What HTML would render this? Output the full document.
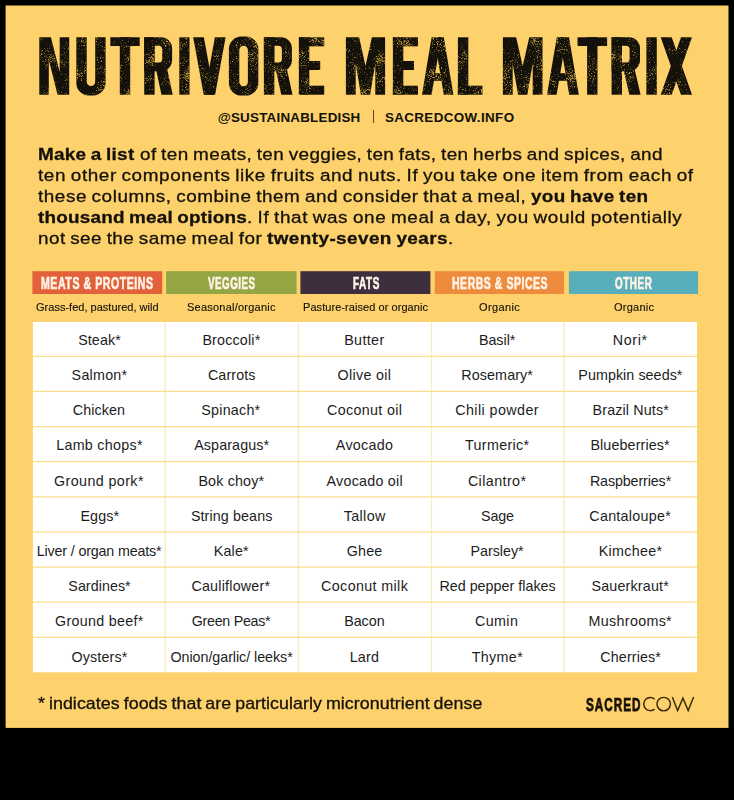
<!DOCTYPE html>
<html><head><meta charset="utf-8"><title>Nutrivore Meal Matrix</title>
<style>
html,body{margin:0;padding:0;background:#000;}
body{width:734px;height:800px;position:relative;overflow:hidden;font-family:"Liberation Sans",sans-serif;color:#14110a;}
.abs{position:absolute;}
#card{left:5.6px;top:5.5px;width:722.9px;height:722.4px;background:#FDD16C;}
.ln{position:absolute;white-space:nowrap;line-height:1;}
.sc{position:absolute;white-space:nowrap;line-height:1;transform-origin:0 50%;}
.hd{position:absolute;top:271.2px;height:22.8px;}
#tbl{left:33px;top:322px;width:664px;height:350px;}
.hl{position:absolute;left:0;width:100%;height:1.1px;background:#FBE7A2;}
.vl{position:absolute;top:0;height:100%;width:1.3px;background:#FBE59C;}
.c{position:absolute;font-size:14.3px;line-height:35px;height:35px;white-space:nowrap;color:#1d1d1d;}
</style></head><body>

<svg class="abs" style="left:0;top:0" width="734" height="800" viewBox="0 0 734 800"><rect x="5.6" y="5.5" width="722.9" height="722.4" fill="#FDD16C"/><rect x="32.4" y="271.2" width="129.8" height="22.8" fill="#E3613A"/><rect x="166.1" y="271.2" width="130.5" height="22.8" fill="#94A644"/><rect x="300.4" y="271.2" width="130.0" height="22.8" fill="#3E2F3E"/><rect x="434.8" y="271.2" width="129.2" height="22.8" fill="#EE8A3C"/><rect x="568.9" y="271.2" width="129.2" height="22.8" fill="#58AEBB"/><rect x="32.9" y="321.9" width="664.1" height="350.4" fill="#fff"/></svg>
<svg class="abs" style="left:0;top:0" width="734" height="110" viewBox="0 0 734 110"><defs><filter id="grit" x="0" y="0" width="734" height="110" filterUnits="userSpaceOnUse" color-interpolation-filters="sRGB"><feTurbulence type="fractalNoise" baseFrequency="0.75" numOctaves="2" seed="7" result="fine"/><feTurbulence type="fractalNoise" baseFrequency="0.06" numOctaves="2" seed="11" result="coarse"/><feComposite in="fine" in2="coarse" operator="arithmetic" k1="0" k2="0.62" k3="0.38" k4="0" result="mix"/><feColorMatrix in="mix" type="matrix" values="0 0 0 0 0.72  0 0 0 0 0.58  0 0 0 0 0.22  7 0 0 0 -3.9" result="sp"/><feGaussianBlur in="sp" stdDeviation="0.3" result="spb"/><feComposite in="spb" in2="SourceGraphic" operator="in" result="spk"/><feMerge><feMergeNode in="SourceGraphic"/><feMergeNode in="spk"/></feMerge></filter></defs><g fill="#14110a" fill-rule="evenodd" filter="url(#grit)"><path d="M39.30 37.30L50.90 37.30L59.70 72.00L59.70 37.30L69.20 37.30L69.20 94.70L57.60 94.70L48.80 60.00L48.80 94.70L39.30 94.70z"/><path d="M76.30 37.30h10.40V81.75a4.25 4.25 0 0 0 8.50 0V37.30h10.40V83.00a12.50 12.50 0 0 1 -12.50 12.50H88.80a12.50 12.50 0 0 1 -12.50 -12.50z"/><path d="M110.30 37.30h29.40v8.70h-29.40z"/><path d="M119.80 37.30h10.40v57.40h-10.40z"/><path d="M144.20 37.30h10.40v57.40h-10.40z"/><path d="M144.20 37.30H161.10A11.00 11.00 0 0 1 172.10 48.30V60.20A11.00 11.00 0 0 1 161.10 71.20H144.20zM154.60 45.80V62.60H158.60A3.60 3.60 0 0 0 162.20 59.00V49.40A3.60 3.60 0 0 0 158.60 45.80z"/><path d="M155.60 67.20L166.80 67.20L172.70 94.70L161.50 94.70z"/><path d="M179.30 37.30h10.20v57.40h-10.20z"/><path d="M193.20 37.30L203.90 37.30L214.40 94.70L203.70 94.70z"/><path d="M225.60 37.30L214.90 37.30L204.40 94.70L215.10 94.70z"/><path d="M241.40 36.50H245.80A12.50 12.50 0 0 1 258.30 49.00V83.10A12.50 12.50 0 0 1 245.80 95.60H241.40A12.50 12.50 0 0 1 228.90 83.10V49.00A12.50 12.50 0 0 1 241.40 36.50zM243.60 45.70H243.60A4.30 4.30 0 0 1 247.90 50.00V81.90A4.30 4.30 0 0 1 243.60 86.20H243.60A4.30 4.30 0 0 1 239.30 81.90V50.00A4.30 4.30 0 0 1 243.60 45.70z"/><path d="M263.90 37.30h10.40v57.40h-10.40z"/><path d="M263.90 37.30H280.90A11.00 11.00 0 0 1 291.90 48.30V60.20A11.00 11.00 0 0 1 280.90 71.20H263.90zM274.30 45.80V62.60H278.30A3.60 3.60 0 0 0 281.90 59.00V49.40A3.60 3.60 0 0 0 278.30 45.80z"/><path d="M275.30 67.20L286.50 67.20L292.50 94.70L281.30 94.70z"/><path d="M298.90 37.30h10.40v57.40h-10.40z"/><path d="M298.90 37.30h25.30v9.00h-25.30z"/><path d="M298.90 85.70h25.30v9.00h-25.30z"/><path d="M298.90 61.00h21.30v9.00h-21.30z"/><path d="M345.90 37.30L359.10 37.30L365.50 66.00L371.90 37.30L385.10 37.30L385.10 94.70L375.30 94.70L375.30 63.40L370.10 94.70L360.90 94.70L355.70 63.40L355.70 94.70L345.90 94.70z"/><path d="M392.90 37.30h10.40v57.40h-10.40z"/><path d="M392.90 37.30h25.10v9.00h-25.10z"/><path d="M392.90 85.70h25.10v9.00h-25.10z"/><path d="M392.90 61.00h21.10v9.00h-21.10z"/><path d="M422.00 94.70L431.60 94.70L441.20 37.30L431.60 37.30z"/><path d="M453.40 94.70L443.80 94.70L434.20 37.30L443.80 37.30z"/><path d="M428.00 73.20h19.40v7.60h-19.40z"/><path d="M457.90 37.30h10.40v57.40h-10.40z"/><path d="M457.90 85.70h24.50v9.00h-24.50z"/><path d="M502.90 37.30L516.10 37.30L522.70 66.00L529.30 37.30L542.50 37.30L542.50 94.70L532.70 94.70L532.70 63.40L527.30 94.70L518.10 94.70L512.70 63.40L512.70 94.70L502.90 94.70z"/><path d="M547.00 94.70L556.60 94.70L566.40 37.30L556.80 37.30z"/><path d="M578.80 94.70L569.20 94.70L559.40 37.30L569.00 37.30z"/><path d="M553.00 73.20h19.80v7.60h-19.80z"/><path d="M577.50 37.30h29.60v8.70h-29.60z"/><path d="M587.10 37.30h10.40v57.40h-10.40z"/><path d="M611.60 37.30h10.40v57.40h-10.40z"/><path d="M611.60 37.30H629.00A11.00 11.00 0 0 1 640.00 48.30V60.20A11.00 11.00 0 0 1 629.00 71.20H611.60zM622.00 45.80V62.60H626.00A3.60 3.60 0 0 0 629.60 59.00V49.40A3.60 3.60 0 0 0 626.00 45.80z"/><path d="M623.00 67.20L634.20 67.20L640.60 94.70L629.40 94.70z"/><path d="M646.40 37.30h10.40v57.40h-10.40z"/><path d="M660.70 37.30L671.70 37.30L692.00 94.70L681.00 94.70z"/><path d="M692.00 37.30L681.00 37.30L660.70 94.70L671.70 94.70z"/></g></svg>
<div class="abs" style="left:372.6px;top:110px;width:1px;height:13px;background:#5e4a22"></div>
<div class="ln" style="left:217.7px;top:111px;font-size:13.4px;font-weight:700;letter-spacing:0.221px;">@SUSTAINABLEDISH</div>
<div class="ln" style="left:384.9px;top:111px;font-size:13.4px;font-weight:700;letter-spacing:0.381px;">SACREDCOW.INFO</div>
<div class="ln" style="left:37.7px;top:146px;font-size:17.2px;font-weight:700;letter-spacing:0.252px;transform:scaleX(1.1);transform-origin:0 50%;-webkit-text-stroke:.3px #16130c;word-spacing:-1px;">Make a list</div>
<div class="ln" style="left:139.8px;top:146px;font-size:17.2px;font-weight:400;letter-spacing:0.355px;transform:scaleX(1.1);transform-origin:0 50%;-webkit-text-stroke:.3px #16130c;word-spacing:-1px;">of ten meats, ten veggies, ten fats, ten herbs and spices, and</div>
<div class="ln" style="left:37.7px;top:167px;font-size:17.2px;font-weight:400;letter-spacing:0.535px;transform:scaleX(1.1);transform-origin:0 50%;-webkit-text-stroke:.3px #16130c;word-spacing:-1px;">ten other components like fruits and nuts. If you take one item from each of</div>
<div class="ln" style="left:37.7px;top:188px;font-size:17.2px;font-weight:400;letter-spacing:0.487px;transform:scaleX(1.1);transform-origin:0 50%;-webkit-text-stroke:.3px #16130c;word-spacing:-1px;">these columns, combine them and consider that a meal,</div>
<div class="ln" style="left:531.1px;top:188px;font-size:17.2px;font-weight:700;letter-spacing:0.307px;transform:scaleX(1.1);transform-origin:0 50%;-webkit-text-stroke:.3px #16130c;word-spacing:-1px;">you have ten</div>
<div class="ln" style="left:37.7px;top:209px;font-size:17.2px;font-weight:700;letter-spacing:0.185px;transform:scaleX(1.1);transform-origin:0 50%;-webkit-text-stroke:.3px #16130c;word-spacing:-1px;">thousand meal options</div>
<div class="ln" style="left:246.6px;top:209px;font-size:17.2px;font-weight:400;letter-spacing:0.545px;transform:scaleX(1.1);transform-origin:0 50%;-webkit-text-stroke:.3px #16130c;word-spacing:-1px;">. If that was one meal a day, you would potentially</div>
<div class="ln" style="left:37.7px;top:230px;font-size:17.2px;font-weight:400;letter-spacing:0.406px;transform:scaleX(1.1);transform-origin:0 50%;-webkit-text-stroke:.3px #16130c;word-spacing:-1px;">not see the same meal for</div>
<div class="ln" style="left:267.1px;top:230px;font-size:17.2px;font-weight:700;letter-spacing:0.382px;transform:scaleX(1.1);transform-origin:0 50%;-webkit-text-stroke:.3px #16130c;word-spacing:-1px;">twenty-seven years</div>
<div class="ln" style="left:448.0px;top:230px;font-size:17.2px;font-weight:400;letter-spacing:-1.236px;transform:scaleX(1.1);transform-origin:0 50%;-webkit-text-stroke:.3px #16130c;word-spacing:-1px;">.</div>
<div class="ln" style="left:35.5px;top:303px;font-size:10.0px;font-weight:400;letter-spacing:0.012px;transform:scaleX(1.1);transform-origin:0 50%;-webkit-text-stroke:.12px #16130c;">Grass-fed, pastured, wild</div>
<div class="ln" style="left:187.0px;top:303px;font-size:10.0px;font-weight:400;letter-spacing:0.212px;transform:scaleX(1.1);transform-origin:0 50%;-webkit-text-stroke:.12px #16130c;">Seasonal/organic</div>
<div class="ln" style="left:303.1px;top:303px;font-size:10.0px;font-weight:400;letter-spacing:0.056px;transform:scaleX(1.1);transform-origin:0 50%;-webkit-text-stroke:.12px #16130c;">Pasture-raised or organic</div>
<div class="ln" style="left:478.9px;top:303px;font-size:10.0px;font-weight:400;letter-spacing:0.331px;transform:scaleX(1.1);transform-origin:0 50%;-webkit-text-stroke:.12px #16130c;">Organic</div>
<div class="ln" style="left:613.7px;top:303px;font-size:10.0px;font-weight:400;letter-spacing:0.225px;transform:scaleX(1.1);transform-origin:0 50%;-webkit-text-stroke:.12px #16130c;">Organic</div>
<div class="ln" style="left:37.6px;top:695px;font-size:16.2px;font-weight:400;letter-spacing:0.058px;transform:scaleX(1.1);transform-origin:0 50%;-webkit-text-stroke:.3px #16130c;word-spacing:-1px;">* indicates foods that are particularly micronutrient dense</div>
<div class="sc" style="left:40.9px;top:275px;font-size:17.2px;font-weight:700;color:#fff3e6;transform:scaleX(0.6152);word-spacing:0px;letter-spacing:.9px;-webkit-text-stroke:.7px #fff3e6;">MEATS &amp; PROTEINS</div>
<div class="sc" style="left:207.8px;top:275px;font-size:17.2px;font-weight:700;color:#fff3e6;transform:scaleX(0.5690);letter-spacing:.9px;-webkit-text-stroke:.7px #fff3e6;">VEGGIES</div>
<div class="sc" style="left:352.6px;top:275px;font-size:17.2px;font-weight:700;color:#fff3e6;transform:scaleX(0.5799);letter-spacing:.9px;-webkit-text-stroke:.7px #fff3e6;">FATS</div>
<div class="sc" style="left:451.5px;top:275px;font-size:17.2px;font-weight:700;color:#fff3e6;transform:scaleX(0.6094);word-spacing:0px;letter-spacing:.9px;-webkit-text-stroke:.7px #fff3e6;">HERBS &amp; SPICES</div>
<div class="sc" style="left:615.0px;top:275px;font-size:17.2px;font-weight:700;color:#fff3e6;transform:scaleX(0.5772);letter-spacing:.9px;-webkit-text-stroke:.7px #fff3e6;">OTHER</div>
<div class="sc" style="left:585.8px;top:695px;font-size:19.2px;font-weight:700;color:#1a1208;transform:scaleX(0.6122);letter-spacing:1.6px;-webkit-text-stroke:.75px #1a1208;">SACRED</div>
<div id="tbl" class="abs">
<svg class="abs" style="left:0;top:0" width="664" height="350" viewBox="33 322 664 350"><path d="M165.20 322V672" stroke="#F9EBBC" stroke-width="1.25"/><path d="M298.40 322V672" stroke="#F9EBBC" stroke-width="1.25"/><path d="M431.50 322V672" stroke="#F9EBBC" stroke-width="1.25"/><path d="M564.00 322V672" stroke="#F9EBBC" stroke-width="1.25"/><path d="M33 356.30H697" stroke="#FBDC88" stroke-width="1.25"/><path d="M33 391.43H697" stroke="#FBDC88" stroke-width="1.25"/><path d="M33 426.56H697" stroke="#FBDC88" stroke-width="1.25"/><path d="M33 461.69H697" stroke="#FBDC88" stroke-width="1.25"/><path d="M33 496.82H697" stroke="#FBDC88" stroke-width="1.25"/><path d="M33 531.95H697" stroke="#FBDC88" stroke-width="1.25"/><path d="M33 567.08H697" stroke="#FBDC88" stroke-width="1.25"/><path d="M33 602.21H697" stroke="#FBDC88" stroke-width="1.25"/><path d="M33 637.34H697" stroke="#FBDC88" stroke-width="1.25"/></svg>
<div class="c" style="left:45.20px;letter-spacing:0.079px;top:1px">Steak*</div>
<div class="c" style="left:38.60px;letter-spacing:0.250px;top:36px">Salmon*</div>
<div class="c" style="left:39.70px;letter-spacing:0.121px;top:71px">Chicken</div>
<div class="c" style="left:23.20px;letter-spacing:0.286px;top:106px">Lamb chops*</div>
<div class="c" style="left:21.00px;letter-spacing:0.404px;top:142px">Ground pork*</div>
<div class="c" style="left:47.40px;letter-spacing:0.149px;top:177px">Eggs*</div>
<div class="c" style="left:3.80px;letter-spacing:-0.163px;top:212px">Liver / organ meats*</div>
<div class="c" style="left:35.30px;letter-spacing:0.044px;top:247px">Sardines*</div>
<div class="c" style="left:22.10px;letter-spacing:0.278px;top:282px">Ground beef*</div>
<div class="c" style="left:38.60px;letter-spacing:0.121px;top:318px">Oysters*</div>
<div class="c" style="left:169.40px;letter-spacing:0.175px;top:1px">Broccoli*</div>
<div class="c" style="left:174.90px;letter-spacing:0.118px;top:36px">Carrots</div>
<div class="c" style="left:168.30px;letter-spacing:0.233px;top:71px">Spinach*</div>
<div class="c" style="left:161.20px;letter-spacing:0.108px;top:106px">Asparagus*</div>
<div class="c" style="left:165.40px;letter-spacing:0.158px;top:142px">Bok choy*</div>
<div class="c" style="left:157.90px;letter-spacing:0.110px;top:177px">String beans</div>
<div class="c" style="left:180.80px;letter-spacing:0.163px;top:212px">Kale*</div>
<div class="c" style="left:158.40px;letter-spacing:0.218px;top:247px">Cauliflower*</div>
<div class="c" style="left:158.80px;letter-spacing:-0.305px;top:282px">Green Peas*</div>
<div class="c" style="left:137.50px;letter-spacing:-0.049px;top:318px">Onion/garlic/ leeks*</div>
<div class="c" style="left:311.20px;letter-spacing:0.374px;top:1px">Butter</div>
<div class="c" style="left:304.60px;letter-spacing:0.305px;top:36px">Olive oil</div>
<div class="c" style="left:294.00px;letter-spacing:0.334px;top:71px">Coconut oil</div>
<div class="c" style="left:302.80px;letter-spacing:0.316px;top:106px">Avocado</div>
<div class="c" style="left:293.60px;letter-spacing:0.240px;top:142px">Avocado oil</div>
<div class="c" style="left:310.70px;letter-spacing:0.378px;top:177px">Tallow</div>
<div class="c" style="left:313.80px;letter-spacing:0.154px;top:212px">Ghee</div>
<div class="c" style="left:288.10px;letter-spacing:0.372px;top:247px">Coconut milk</div>
<div class="c" style="left:311.20px;letter-spacing:-0.029px;top:282px">Bacon</div>
<div class="c" style="left:316.70px;letter-spacing:0.194px;top:318px">Lard</div>
<div class="c" style="left:445.90px;letter-spacing:-0.010px;top:1px">Basil*</div>
<div class="c" style="left:428.30px;letter-spacing:0.109px;top:36px">Rosemary*</div>
<div class="c" style="left:422.20px;letter-spacing:0.427px;top:71px">Chili powder</div>
<div class="c" style="left:432.10px;letter-spacing:0.307px;top:106px">Turmeric*</div>
<div class="c" style="left:434.90px;letter-spacing:0.408px;top:142px">Cilantro*</div>
<div class="c" style="left:448.10px;letter-spacing:-0.148px;top:177px">Sage</div>
<div class="c" style="left:437.60px;letter-spacing:-0.031px;top:212px">Parsley*</div>
<div class="c" style="left:406.40px;letter-spacing:0.015px;top:247px">Red pepper flakes</div>
<div class="c" style="left:442.00px;letter-spacing:0.394px;top:282px">Cumin</div>
<div class="c" style="left:438.70px;letter-spacing:0.356px;top:318px">Thyme*</div>
<div class="c" style="left:579.80px;letter-spacing:0.644px;top:1px">Nori*</div>
<div class="c" style="left:545.30px;letter-spacing:0.063px;top:36px">Pumpkin seeds*</div>
<div class="c" style="left:559.60px;letter-spacing:0.134px;top:71px">Brazil Nuts*</div>
<div class="c" style="left:557.40px;letter-spacing:0.126px;top:106px">Blueberries*</div>
<div class="c" style="left:556.90px;letter-spacing:-0.120px;top:142px">Raspberries*</div>
<div class="c" style="left:556.30px;letter-spacing:0.282px;top:177px">Cantaloupe*</div>
<div class="c" style="left:565.70px;letter-spacing:0.300px;top:212px">Kimchee*</div>
<div class="c" style="left:558.50px;letter-spacing:0.173px;top:247px">Sauerkraut*</div>
<div class="c" style="left:555.60px;letter-spacing:0.315px;top:282px">Mushrooms*</div>
<div class="c" style="left:567.30px;letter-spacing:0.123px;top:318px">Cherries*</div>
</div>
<svg class="abs" style="left:636px;top:690px" width="70" height="30" viewBox="636 690 70 30"><g fill="none" stroke="#3a2709" stroke-width="1.45"><path d="M654.68 699.23A6.55 6.55 0 1 0 654.68 708.97"/><circle cx="663.7" cy="704.1" r="6.75"/><path d="M672.3 697.1L677.6 710.6L682.9 698.2L688.2 710.6L693.6 697.1" stroke-linejoin="miter"/></g></svg>
</body></html>
